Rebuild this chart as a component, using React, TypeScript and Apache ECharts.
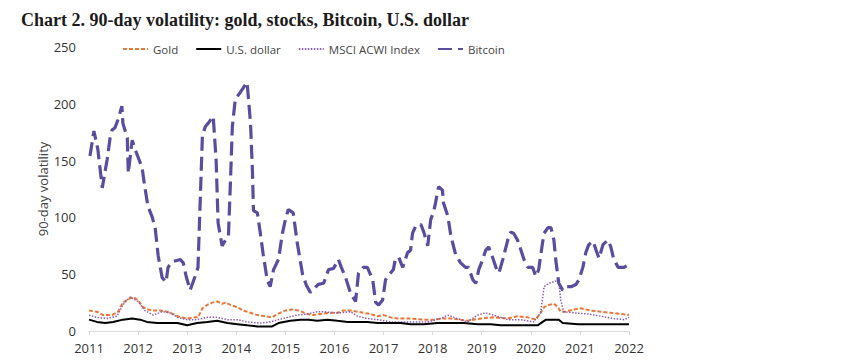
import React, { useEffect, useRef } from "react";
import * as echarts from "echarts";

const seriesNames = ["Gold", "U.S. dollar", "MSCI ACWI Index", "Bitcoin"];
const yearTicks = [2011, 2012, 2013, 2014, 2015, 2016, 2017, 2018, 2019, 2020, 2021, 2022];

const gold: [number, number][] = [
  [2011.0, 18], [2011.16, 17], [2011.29, 14], [2011.47, 14], [2011.59, 17], [2011.69, 25],
  [2011.8, 28], [2011.9, 30], [2012.0, 27], [2012.1, 21], [2012.2, 19], [2012.31, 18],
  [2012.45, 18], [2012.59, 17], [2012.71, 15], [2012.86, 12], [2013.0, 11], [2013.12, 12],
  [2013.22, 12], [2013.31, 20], [2013.41, 23], [2013.51, 25], [2013.61, 26], [2013.71, 24],
  [2013.78, 25], [2013.88, 23], [2014.02, 21], [2014.14, 18], [2014.29, 16], [2014.43, 14],
  [2014.59, 13], [2014.73, 12], [2014.84, 15], [2015.0, 18], [2015.14, 19], [2015.27, 18],
  [2015.45, 15], [2015.57, 14], [2015.71, 15], [2015.88, 16], [2016.06, 16], [2016.18, 18],
  [2016.33, 18], [2016.47, 17], [2016.59, 16], [2016.73, 15], [2016.88, 13], [2017.0, 14],
  [2017.14, 12], [2017.29, 11], [2017.55, 11], [2017.82, 10], [2018.02, 10], [2018.2, 11],
  [2018.37, 11], [2018.57, 10], [2018.71, 9], [2018.98, 11], [2019.24, 12], [2019.53, 11],
  [2019.73, 13], [2019.94, 12], [2020.1, 10], [2020.2, 16], [2020.27, 21], [2020.37, 23],
  [2020.47, 24], [2020.55, 21], [2020.61, 17], [2020.71, 17], [2020.88, 19], [2021.02, 20],
  [2021.22, 18], [2021.43, 17], [2021.63, 16], [2021.84, 15], [2022.0, 14],
];

const usd: [number, number][] = [
  [2011.0, 10], [2011.16, 8], [2011.33, 7], [2011.49, 8], [2011.69, 10], [2011.88, 11],
  [2012.04, 10], [2012.18, 8], [2012.39, 7], [2012.59, 7], [2012.8, 7], [2013.0, 5],
  [2013.2, 7], [2013.41, 8], [2013.61, 9], [2013.82, 7], [2014.02, 6], [2014.22, 5],
  [2014.43, 4], [2014.59, 4], [2014.73, 4], [2014.86, 7], [2015.1, 9], [2015.31, 10],
  [2015.47, 10], [2015.65, 9], [2015.86, 10], [2016.06, 9], [2016.27, 8], [2016.47, 8],
  [2016.67, 8], [2016.88, 7], [2017.08, 7], [2017.35, 7], [2017.55, 6], [2017.82, 6],
  [2018.1, 7], [2018.37, 7], [2018.63, 7], [2018.92, 6], [2019.18, 6], [2019.39, 5],
  [2019.59, 5], [2019.8, 5], [2020.0, 5], [2020.14, 5], [2020.24, 8], [2020.31, 10],
  [2020.47, 10], [2020.57, 10], [2020.65, 7], [2020.96, 6], [2021.43, 6], [2021.84, 6],
  [2022.0, 6],
];

const msci: [number, number][] = [
  [2011.0, 14], [2011.16, 12], [2011.37, 11], [2011.57, 13], [2011.69, 23], [2011.84, 30],
  [2012.0, 26], [2012.14, 18], [2012.31, 14], [2012.49, 17], [2012.65, 16], [2012.8, 12],
  [2013.0, 10], [2013.2, 10], [2013.41, 12], [2013.61, 12], [2013.82, 10], [2014.02, 10],
  [2014.22, 8], [2014.49, 7], [2014.69, 8], [2014.86, 10], [2015.04, 12], [2015.24, 14],
  [2015.45, 15], [2015.65, 17], [2015.78, 17], [2015.98, 16], [2016.12, 16], [2016.33, 17],
  [2016.47, 13], [2016.67, 11], [2016.88, 10], [2017.14, 8], [2017.41, 8], [2017.9, 8],
  [2018.16, 11], [2018.31, 14], [2018.43, 12], [2018.71, 8], [2018.92, 14], [2019.08, 16],
  [2019.24, 14], [2019.53, 10], [2019.8, 10], [2020.06, 8], [2020.2, 16], [2020.27, 39],
  [2020.37, 42], [2020.51, 44], [2020.57, 42], [2020.61, 27], [2020.67, 17], [2020.88, 16],
  [2021.16, 15], [2021.43, 13], [2021.69, 11], [2021.9, 10], [2022.0, 12],
];

const bitcoin: [number, number][] = [
  [2011.02, 154], [2011.1, 176], [2011.18, 160], [2011.27, 126], [2011.37, 151], [2011.43, 170],
  [2011.47, 177], [2011.53, 179], [2011.59, 186], [2011.67, 198], [2011.69, 183], [2011.78, 170],
  [2011.8, 139], [2011.88, 168], [2011.94, 160], [2012.0, 153], [2012.08, 144], [2012.14, 126],
  [2012.2, 110], [2012.29, 100], [2012.35, 90], [2012.41, 66], [2012.49, 47], [2012.57, 43],
  [2012.61, 56], [2012.69, 61], [2012.86, 63], [2012.92, 60], [2012.98, 48], [2013.06, 36],
  [2013.16, 48], [2013.22, 56], [2013.27, 120], [2013.31, 172], [2013.37, 180], [2013.43, 183],
  [2013.53, 189], [2013.59, 150], [2013.63, 95], [2013.71, 75], [2013.78, 80], [2013.84, 83],
  [2013.88, 130], [2013.92, 180], [2013.98, 204], [2014.08, 210], [2014.22, 219], [2014.29, 183],
  [2014.33, 140], [2014.35, 106], [2014.43, 104], [2014.49, 86], [2014.55, 67], [2014.63, 45],
  [2014.69, 39], [2014.76, 54], [2014.86, 63], [2014.94, 86], [2015.0, 98], [2015.06, 107],
  [2015.16, 104], [2015.24, 78], [2015.35, 50], [2015.43, 40], [2015.51, 34], [2015.67, 41],
  [2015.78, 42], [2015.88, 54], [2015.98, 55], [2016.08, 63], [2016.14, 56], [2016.22, 48],
  [2016.33, 33], [2016.43, 26], [2016.49, 51], [2016.59, 56], [2016.67, 56], [2016.78, 45],
  [2016.84, 25], [2016.9, 23], [2016.98, 27], [2017.04, 45], [2017.1, 49], [2017.2, 54],
  [2017.24, 63], [2017.31, 65], [2017.39, 56], [2017.49, 69], [2017.55, 71], [2017.59, 86],
  [2017.65, 92], [2017.76, 94], [2017.82, 87], [2017.9, 75], [2017.96, 98], [2018.02, 105],
  [2018.06, 113], [2018.12, 127], [2018.2, 124], [2018.22, 113], [2018.31, 101], [2018.37, 84],
  [2018.47, 67], [2018.57, 60], [2018.67, 56], [2018.73, 56], [2018.82, 45], [2018.88, 42],
  [2018.94, 54], [2019.02, 63], [2019.08, 71], [2019.14, 74], [2019.22, 65], [2019.29, 56],
  [2019.35, 51], [2019.43, 63], [2019.53, 80], [2019.59, 87], [2019.65, 86], [2019.73, 80],
  [2019.8, 71], [2019.86, 63], [2019.94, 56], [2020.04, 56], [2020.1, 48], [2020.16, 54],
  [2020.24, 78], [2020.27, 86], [2020.35, 91], [2020.41, 91], [2020.47, 80], [2020.51, 62],
  [2020.57, 42], [2020.65, 36], [2020.71, 39], [2020.82, 39], [2020.92, 41], [2020.98, 45],
  [2021.06, 56], [2021.12, 69], [2021.18, 76], [2021.27, 79], [2021.33, 71], [2021.39, 64],
  [2021.47, 76], [2021.57, 80], [2021.63, 74], [2021.69, 63], [2021.78, 56], [2021.84, 56],
  [2021.9, 56], [2021.98, 58], [2022.0, 56],
];

const SANS = "'Open Sans', 'Noto Sans', sans-serif";

export default function App() {
  const ref = useRef<HTMLDivElement>(null);
  useEffect(() => {
    document.body.style.margin = "0";
    if (!ref.current) return;
    const chart = echarts.init(ref.current, undefined, { renderer: "svg" });
    chart.setOption({
      animation: false,
      backgroundColor: "#ffffff",
      title: {
        text: "Chart 2. 90-day volatility: gold, stocks, Bitcoin, U.S. dollar",
        left: 21,
        top: 11,
        padding: 0,
        textStyle: {
          fontFamily: "'Liberation Serif', 'DejaVu Serif', serif",
          fontWeight: "bold",
          fontSize: 18,
          color: "#1b1b1b",
        },
      },
      legend: {
        data: seriesNames,
        left: 122,
        top: 43,
        padding: 0,
        itemWidth: 25,
        itemHeight: 12,
        itemGap: 17,
        itemStyle: { opacity: 0, borderWidth: 0 },
        textStyle: { fontFamily: SANS, fontSize: 11.5, color: "#444" },
      },
      grid: {
        left: 89,
        right: 221,
        top: 47,
        bottom: 32,
        containLabel: false,
        outerBoundsMode: "none",
      },
      xAxis: {
        type: "value",
        min: yearTicks[0],
        max: yearTicks[yearTicks.length - 1],
        interval: 1,
        axisLine: { show: true, onZero: false, lineStyle: { color: "#d9d9d9", width: 1 } },
        axisTick: { show: true, length: 4, lineStyle: { color: "#d9d9d9" } },
        splitLine: { show: false },
        axisLabel: {
          fontFamily: SANS,
          fontSize: 13,
          color: "#333",
          margin: 10,
          formatter: (v: number) => String(Math.round(v)),
        },
      },
      yAxis: {
        type: "value",
        min: 0,
        max: 250,
        interval: 50,
        name: "90-day volatility",
        nameLocation: "middle",
        nameGap: 40,
        nameMoveOverlap: false,
        nameTextStyle: { fontFamily: SANS, fontSize: 13, color: "#444" },
        axisLine: { show: false },
        axisTick: { show: false },
        splitLine: { show: false },
        axisLabel: { fontFamily: SANS, fontSize: 13, color: "#333", margin: 13 },
      },
      series: [
        {
          name: "Gold",
          type: "line",
          data: gold,
          showSymbol: false,
          symbol: "none",
          lineStyle: { color: "#e9773a", width: 2, type: [4, 2] },
          itemStyle: { color: "#e9773a" },
          z: 2,
        },
        {
          name: "U.S. dollar",
          type: "line",
          data: usd,
          showSymbol: false,
          symbol: "none",
          lineStyle: { color: "#000000", width: 2 },
          itemStyle: { color: "#000000" },
          z: 3,
        },
        {
          name: "MSCI ACWI Index",
          type: "line",
          data: msci,
          showSymbol: false,
          symbol: "none",
          lineStyle: { color: "#8a5fa8", width: 1.5, type: [1.5, 1.5] },
          itemStyle: { color: "#8a5fa8" },
          z: 2,
        },
        {
          name: "Bitcoin",
          type: "line",
          data: bitcoin,
          showSymbol: false,
          symbol: "none",
          lineStyle: { color: "#5a4c9e", width: 3.2, type: [14, 6] },
          itemStyle: { color: "#5a4c9e" },
          z: 4,
        },
      ],
    });
    return () => chart.dispose();
  }, []);
  return <div ref={ref} style={{ width: 850, height: 363 }} />;
}
